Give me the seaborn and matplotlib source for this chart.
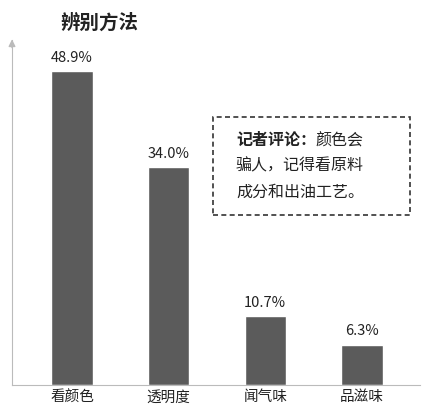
import matplotlib
matplotlib.use("Agg")
import matplotlib.pyplot as plt
import seaborn as sns
import pandas as pd

categories = ["看颜色", "透明度", "闻气味", "品滋味"]
values = [48.9, 34.0, 10.7, 6.3]
labels = ["48.9%", "34.0%", "10.7%", "6.3%"]

sns.set_style("white")
plt.rcParams['font.family'] = ['Noto Sans CJK SC', 'DejaVu Sans']

fig = plt.figure(figsize=(4.29, 4.17), dpi=100)
ax = fig.add_axes([0.028, 0.077, 0.951, 0.827])
df = pd.DataFrame({"c": categories, "v": values})
sns.barplot(data=df, x="c", y="v", color="#5b5b5b", saturation=1, width=0.43, ax=ax)
ax.set_xlim(-0.62, 3.6)
ax.set_ylim(0, 53.8)
for i, (v, l) in enumerate(zip(values, labels)):
    ax.text(i, v + 1.0, l, ha="center", va="bottom", fontsize=10.5, color="#222222")
for s in ["top", "right"]:
    ax.spines[s].set_visible(False)
ax.spines["left"].set_color("#bbbbbb")
ax.spines["bottom"].set_color("#bbbbbb")
ax.set_yticks([])
ax.set_xlabel(""); ax.set_ylabel("")
ax.tick_params(axis="x", length=0, labelsize=10.5, colors="#222222", pad=4)
ax.annotate("", xy=(0, 1.01), xytext=(0, 0.97), xycoords="axes fraction",
            arrowprops=dict(arrowstyle="-|>", color="#bbbbbb", lw=1))
fig.text(0.14, 0.945, "辨别方法", fontsize=14, fontweight="bold", color="#222222", va="center")

box = plt.Rectangle((0.497, 0.484), 0.459, 0.235, transform=fig.transFigure,
                    fill=False, ls=(0, (3, 2)), lw=1.2, ec="#333333")
fig.patches.append(box)
fig.text(0.55, 0.665, "记者评论：", fontsize=11.5, fontweight="bold", color="#222222", va="center")
fig.text(0.735, 0.665, "颜色会", fontsize=11.5, color="#222222", va="center")
fig.text(0.55, 0.602, "骗人，记得看原料", fontsize=11.5, color="#222222", va="center")
fig.text(0.55, 0.54, "成分和出油工艺。", fontsize=11.5, color="#222222", va="center")

fig.savefig("out.png", dpi=100)
